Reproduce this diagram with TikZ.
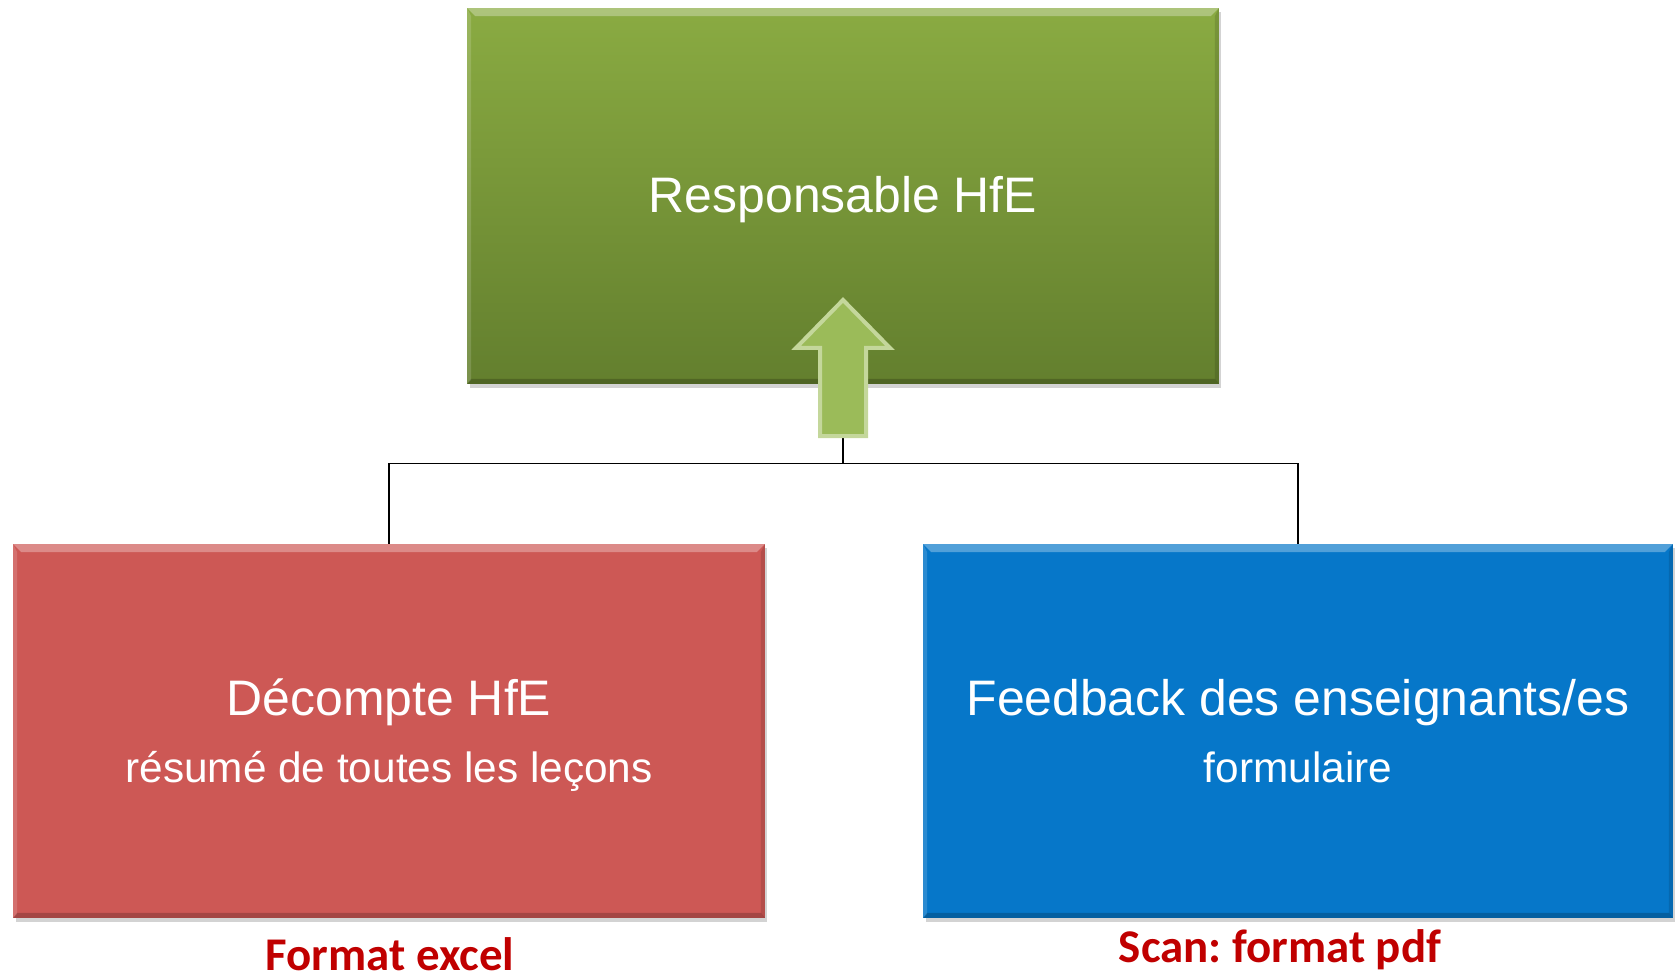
\documentclass[tikz,border=0pt]{standalone}
\usepackage{fontspec}
\setmainfont{Liberation Sans}
\newfontfamily\notefont{Carlito}
\usetikzlibrary{shadows}
\frenchspacing

\definecolor{hfegreentop}{HTML}{8AAB42}
\definecolor{hfegreenbot}{HTML}{637F2E}
\definecolor{hfered}{HTML}{CD5855}
\definecolor{hfeblue}{HTML}{0677C9}
\definecolor{arrowfill}{HTML}{9BBB59}
\definecolor{arrowrim}{HTML}{C4D79B}
\definecolor{notered}{HTML}{C00000}

\begin{document}
\begin{tikzpicture}[x=0.02cm, y=-0.02cm,
    box/.style={draw=none, text=white, align=center, inner sep=0pt,
        font=\fontsize{28.4}{36}\selectfont,
        drop shadow={shadow xshift=0.05cm, shadow yshift=-0.08cm, opacity=0.35},
        path picture={
            \fill[white, opacity=0.3] (path picture bounding box.north west) -- (path picture bounding box.north east)
                -- ([shift={(-0.16cm,-0.16cm)}]path picture bounding box.north east)
                -- ([shift={(0.16cm,-0.16cm)}]path picture bounding box.north west) -- cycle;
            \fill[white, opacity=0.15] (path picture bounding box.north west) -- (path picture bounding box.south west)
                -- ([shift={(0.08cm,0.08cm)}]path picture bounding box.south west)
                -- ([shift={(0.08cm,-0.16cm)}]path picture bounding box.north west) -- cycle;
            \fill[black, opacity=0.2] (path picture bounding box.south west) -- (path picture bounding box.south east)
                -- ([shift={(-0.08cm,0.1cm)}]path picture bounding box.south east)
                -- ([shift={(0.08cm,0.1cm)}]path picture bounding box.south west) -- cycle;
            \fill[black, opacity=0.12] (path picture bounding box.north east) -- (path picture bounding box.south east)
                -- ([shift={(-0.08cm,0.1cm)}]path picture bounding box.south east)
                -- ([shift={(-0.08cm,-0.16cm)}]path picture bounding box.north east) -- cycle;
        }},
    note/.style={text=notered, font=\notefont\bfseries\fontsize{26.7}{32}\selectfont, inner sep=0pt},
    link/.style={draw=black, line width=0.8pt}
]
    \useasboundingbox (0,0) rectangle (1675,979);

    % the three boxes
    \node[box, top color=hfegreentop, bottom color=hfegreenbot,
        minimum width=15.04cm, minimum height=7.52cm] (hfe) at (843,196) {};
    \node[box, fill=hfered, minimum width=15.04cm, minimum height=7.48cm] (decompte) at (389,731) {};
    \node[box, fill=hfeblue, minimum width=15cm, minimum height=7.48cm] (feedback) at (1298,731) {};

    % box texts
    \node[text=white, font=\fontsize{28.4}{36}\selectfont] (hfe-text) at (843,200) {Responsable HfE};
    \node[text=white, align=center, font=\fontsize{28.4}{36}\selectfont] (decompte-text) at (389,735)
        {Décompte HfE\\[2pt]{\fontsize{24.1}{30}\selectfont résumé de toutes les leçons}};
    \node[text=white, align=center, font=\fontsize{28.4}{36}\selectfont] (feedback-text) at (1298,731)
        {Feedback des enseignants/es\\[2pt]{\fontsize{24.1}{30}\selectfont formulaire}};

    % tree connector
    \coordinate (bus) at (843,463.6);
    \draw[link] (hfe.south) -- (bus) -| (decompte.north);
    \draw[link] (bus) -| (feedback.north);

    % up arrow
    \draw[fill=arrowfill, draw=arrowrim, line width=0.08cm, line join=miter]
        (820,436) -- (866,436) -- (866,348) -- (890,348) -- (843,300)
        -- (796,348) -- (820,348) -- cycle;

    % formats
    \node[note] (excel) at (390,954) {Format excel};
    \node[note] (pdf) at (1280,950) {Scan: format pdf};
\end{tikzpicture}
\end{document}
